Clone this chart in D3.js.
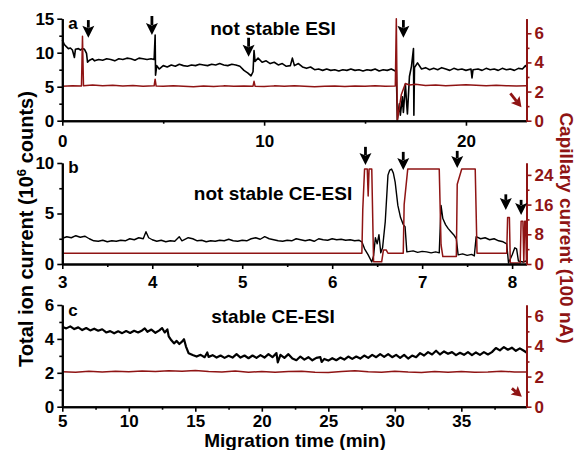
<!DOCTYPE html>
<html>
<head>
<meta charset="UTF-8">
<script src="https://d3js.org/d3.v7.min.js"></script>
<style>
  body { margin: 0; background: #fff; }
  svg text { font-family: "Liberation Sans", Arial, sans-serif; font-weight: bold; }
</style>
</head>
<body>
<div id="chart"></div>
<script>
const red = "#8f1414";

// ---- panel a: not stable ESI (time 0-23 min) ----
const ticA = [[0,11.9],[0.1,11.2],[0.2,10.9],[0.3,10.6],[0.4,10.7],[0.5,10.4],[0.6,9.3],[0.65,10.5],[0.8,10.6],[0.9,10.4],[1.0,10.6],[1.1,10.5],[1.2,9.9],[1.25,8.6],[1.35,8.9],[1.5,9.1],[1.6,8.8],[1.8,9.0],[2.0,8.9],[2.2,9.1],[2.4,9.0],[2.6,8.8],[2.8,9.1],[3.0,9.0],[3.2,9.2],[3.4,9.1],[3.6,8.9],[3.8,9.2],[4.0,9.1],[4.2,9.0],[4.4,9.1],[4.55,9.0],[4.6,12.6],[4.62,6.7],[4.68,8.1],[4.8,7.6],[5.0,8.1],[5.2,7.9],[5.4,8.2],[5.6,8.0],[5.8,8.3],[6.0,8.1],[6.2,8.0],[6.4,8.2],[6.6,8.1],[6.8,8.3],[7.0,8.2],[7.2,8.1],[7.4,8.3],[7.6,8.2],[7.8,8.4],[8.0,8.2],[8.2,8.1],[8.4,8.3],[8.6,8.2],[8.8,8.0],[9.0,7.4],[9.2,7.0],[9.35,6.6],[9.45,7.2],[9.5,10.3],[9.55,8.7],[9.7,9.2],[9.9,8.6],[10.1,8.8],[10.3,8.4],[10.5,8.6],[10.7,8.2],[10.9,8.4],[11.1,8.0],[11.3,8.1],[11.4,9.2],[11.5,8.1],[11.7,8.4],[11.9,7.9],[12.1,7.7],[12.3,7.9],[12.5,7.5],[12.7,7.6],[12.9,7.4],[13.1,7.6],[13.3,7.4],[13.5,7.5],[13.7,7.3],[13.9,7.5],[14.1,7.4],[14.3,7.6],[14.5,7.4],[14.7,7.5],[14.9,7.3],[15.1,7.5],[15.3,7.4],[15.5,7.6],[15.7,7.3],[15.9,7.5],[16.1,7.4],[16.3,7.6],[16.5,7.3],[16.55,7.4],[16.6,0.1],[16.7,2.5],[16.75,0.8],[16.85,3.5],[16.9,1.2],[17.0,5.4],[17.05,3.0],[17.1,1.0],[17.2,6.5],[17.3,8.0],[17.4,10.6],[17.42,0.8],[17.45,7.8],[17.6,8.5],[17.8,7.6],[18.0,7.8],[18.2,7.5],[18.4,7.7],[18.6,7.5],[18.8,7.8],[19.0,7.6],[19.2,7.4],[19.4,7.7],[19.6,7.5],[19.8,7.6],[20.0,7.4],[20.25,7.6],[20.3,6.3],[20.35,7.5],[20.6,7.6],[20.8,7.4],[21.0,7.7],[21.2,7.5],[21.4,7.6],[21.6,7.4],[21.8,7.7],[22.0,7.5],[22.2,7.6],[22.4,7.4],[22.6,7.7],[22.8,7.6],[22.95,8.1],[23.0,7.9]];
const capA = [[0,2.37],[0.5,2.4],[0.95,2.38],[1.0,5.8],[1.05,2.4],[1.5,2.45],[2,2.4],[2.5,2.43],[3,2.38],[3.5,2.41],[4,2.37],[4.55,2.39],[4.6,2.85],[4.65,2.38],[5,2.36],[5.5,2.4],[6,2.37],[6.5,2.33],[7,2.38],[7.5,2.35],[8,2.39],[8.5,2.36],[9,2.38],[9.45,2.37],[9.5,2.7],[9.55,2.37],[10,2.35],[10.5,2.39],[11,2.36],[11.5,2.4],[12,2.36],[12.5,2.33],[13,2.36],[13.5,2.38],[14,2.35],[14.5,2.38],[15,2.36],[15.5,2.4],[16,2.37],[16.5,2.38],[16.55,7],[16.6,0],[16.8,1.8],[17.0,2.55],[17.2,2.45],[17.5,2.5],[18,2.42],[18.5,2.45],[19,2.4],[19.5,2.43],[20,2.47],[20.5,2.43],[21,2.4],[21.5,2.43],[22,2.4],[22.5,2.38],[23,2.4]];
// arrows: [time, from, to] on the ion current axis
const arrowsA = [[1.29,14.8,12.2],[4.44,15.4,12.6],[9.23,12.2,9.4],[16.9,14.8,12.2]];

// ---- panel b: not stable CE-ESI (time 3-8.16 min) ----
const ticB = [[3.00,2.55],[3.05,2.7],[3.10,2.6],[3.15,2.8],[3.20,2.65],[3.25,2.75],[3.30,2.5],[3.35,2.3],[3.40,2.25],[3.45,2.35],[3.50,2.2],[3.55,2.3],[3.60,2.25],[3.65,2.35],[3.70,2.3],[3.75,2.5],[3.80,2.4],[3.85,2.6],[3.90,2.5],[3.93,3.2],[3.96,2.6],[4.00,2.4],[4.05,2.25],[4.10,2.35],[4.15,2.2],[4.20,2.3],[4.25,2.25],[4.30,2.7],[4.33,2.3],[4.40,2.6],[4.45,2.5],[4.50,2.3],[4.55,2.35],[4.60,2.2],[4.65,2.3],[4.70,2.25],[4.75,2.35],[4.80,2.3],[4.85,2.45],[4.90,2.3],[4.95,2.25],[5.00,2.35],[5.05,2.3],[5.10,2.5],[5.15,2.6],[5.20,2.45],[5.25,2.7],[5.30,2.5],[5.35,2.4],[5.40,2.3],[5.45,2.25],[5.50,2.35],[5.55,2.3],[5.60,2.5],[5.65,2.4],[5.70,2.3],[5.75,2.4],[5.80,2.25],[5.85,2.5],[5.90,2.4],[5.95,2.35],[6.00,2.5],[6.05,2.4],[6.10,2.45],[6.15,2.35],[6.20,2.4],[6.25,2.3],[6.30,2.35],[6.33,2.2],[6.36,1.5],[6.40,0.9],[6.44,0.2],[6.46,0.8],[6.48,2.6],[6.50,2.0],[6.52,2.9],[6.54,1.1],[6.56,1.6],[6.59,4.2],[6.62,8.8],[6.64,9.3],[6.66,9.4],[6.68,9.0],[6.70,8.1],[6.73,5.8],[6.76,4.6],[6.79,3.9],[6.81,3.7],[6.83,1.2],[6.90,1.3],[6.95,1.15],[7.00,1.25],[7.05,1.2],[7.10,1.1],[7.15,1.2],[7.19,1.1],[7.21,5.8],[7.23,4.5],[7.26,3.9],[7.29,3.5],[7.32,3.2],[7.35,2.9],[7.38,2.5],[7.40,0.9],[7.45,1.0],[7.50,0.85],[7.55,0.95],[7.58,0.8],[7.60,2.7],[7.65,2.5],[7.70,2.6],[7.75,2.4],[7.80,2.5],[7.85,2.3],[7.90,2.2],[7.94,2.0],[7.96,0.1],[8.00,0.9],[8.03,1.6],[8.05,1.5],[8.07,0.3],[8.12,0.2],[8.16,0.3]];
const capB = [[3,2.9],[6.33,2.9],[6.34,14.7],[6.36,25.6],[6.39,25.6],[6.40,18.3],[6.41,25.6],[6.44,25.6],[6.46,0.6],[6.55,0.6],[6.57,3.8],[6.60,3.8],[6.62,2.9],[6.79,2.9],[6.80,16],[6.84,25.6],[7.19,25.6],[7.21,5.2],[7.23,2.0],[7.38,2.0],[7.39,21.5],[7.44,25.6],[7.59,25.6],[7.61,2.9],[7.94,2.9],[7.95,12.5],[7.97,12.5],[7.98,0.3],[8.09,0.3],[8.10,11.5],[8.12,11.5],[8.13,0.5],[8.14,11.5],[8.15,11.5],[8.16,0]];
const arrowsB = [[6.37,11.6,9.8],[6.79,11.1,9.3],[7.39,11.2,9.5],[7.93,6.9,5.35],[8.10,6.35,4.85]];

// ---- panel c: stable CE-ESI (time 5-40 min) ----
const ticC = [[5.0,4.72],[5.3,4.62],[5.6,4.74],[5.9,4.58],[6.2,4.68],[6.5,4.52],[6.8,4.64],[7.1,4.5],[7.4,4.6],[7.7,4.48],[8.0,4.57],[8.3,4.38],[8.6,4.46],[8.9,4.33],[9.2,4.45],[9.5,4.34],[9.8,4.46],[10.1,4.35],[10.4,4.48],[10.7,4.38],[11.0,4.5],[11.2,4.62],[11.4,4.42],[11.7,4.55],[12.0,4.36],[12.3,4.5],[12.5,4.64],[12.7,4.38],[12.9,4.56],[13.0,4.15],[13.2,3.92],[13.4,3.74],[13.6,3.88],[13.8,3.7],[14.0,3.84],[14.15,3.98],[14.3,3.55],[14.5,3.15],[14.8,3.05],[15.1,2.96],[15.4,3.06],[15.7,2.92],[15.9,3.2],[16.0,2.94],[16.3,3.04],[16.6,2.9],[16.9,3.02],[17.2,2.88],[17.5,3.0],[17.8,2.9],[18.1,3.1],[18.4,2.9],[18.7,3.02],[19.0,2.86],[19.3,3.02],[19.6,2.88],[19.9,3.04],[20.2,2.9],[20.5,3.1],[20.8,2.92],[21.1,3.16],[21.2,2.62],[21.4,3.06],[21.7,2.88],[22.0,3.1],[22.3,2.84],[22.6,2.74],[22.9,2.96],[23.2,2.78],[23.5,2.92],[23.8,2.74],[24.1,2.88],[24.4,2.92],[24.5,2.64],[24.7,2.82],[25.0,2.72],[25.3,2.86],[25.6,2.74],[25.9,2.9],[26.2,2.78],[26.5,2.96],[26.8,2.82],[27.1,2.96],[27.4,2.84],[27.7,3.02],[28.0,2.88],[28.3,3.06],[28.6,2.92],[28.9,3.1],[29.2,2.94],[29.5,3.1],[29.8,2.92],[30.1,3.06],[30.4,2.88],[30.7,3.06],[31.0,2.84],[31.3,3.02],[31.6,2.92],[31.9,3.16],[32.2,3.02],[32.5,3.22],[32.8,3.08],[33.1,3.3],[33.4,3.08],[33.7,3.26],[34.0,3.12],[34.3,3.22],[34.6,3.04],[34.9,3.18],[35.2,3.06],[35.5,3.22],[35.8,3.04],[36.1,3.2],[36.4,3.06],[36.7,3.22],[37.0,3.08],[37.3,3.22],[37.6,3.46],[37.9,3.32],[38.2,3.52],[38.5,3.36],[38.8,3.48],[39.1,3.3],[39.4,3.44],[39.7,3.3],[39.9,3.2]];
const capC = [[5,2.32],[6,2.29],[7,2.35],[8,2.3],[9,2.36],[10,2.32],[11,2.37],[12,2.33],[13,2.39],[14,2.35],[15,2.41],[16,2.34],[17,2.31],[18,2.37],[19,2.29],[20,2.33],[21,2.28],[22,2.33],[23,2.36],[24,2.29],[25,2.27],[26,2.33],[27,2.39],[28,2.32],[29,2.29],[30,2.35],[31,2.3],[32,2.27],[33,2.33],[34,2.29],[35,2.33],[36,2.28],[37,2.31],[38,2.36],[39,2.31],[39.9,2.3]];

// red arrows: [time from, cap from, time to, cap to]
const redArrowA = [22.2, 1.88, 22.75, 0.92];
const redArrowC = [38.8, 1.22, 39.55, 0.66];

const panels = [
  { letter: "a", title: "not stable ESI", top: 18.7, bottom: 120.7,
    xDomain: [0, 23], xTicks: [0, 10, 20], xMinor: [5, 15],
    yDomain: [0, 15], yTicks: [0, 5, 10, 15], yMinor: [2.5, 7.5, 12.5],
    rDomain: [0, 7], rTicks: [0, 2, 4, 6], rMinor: [1, 3, 5],
    tic: ticA, cap: capA, arrows: arrowsA, redArrow: redArrowA, ticWidth: 1.6,
    letterY: 28.5, titleY: 35, labelDy: 26 },
  { letter: "b", title: "not stable CE-ESI", top: 163, bottom: 264,
    xDomain: [3, 8.16], xTicks: [3, 4, 5, 6, 7, 8], xMinor: [3.5, 4.5, 5.5, 6.5, 7.5],
    yDomain: [0, 10], yTicks: [0, 5, 10], yMinor: [2.5, 7.5],
    rDomain: [0, 27.2], rTicks: [0, 8, 16, 24], rMinor: [4, 12, 20],
    tic: ticB, cap: capB, arrows: arrowsB, redArrow: null, ticWidth: 1.4,
    letterY: 173, titleY: 200, labelDy: 24 },
  { letter: "c", title: "stable CE-ESI", top: 305, bottom: 406.7,
    xDomain: [5, 39.9], xTicks: [5, 10, 15, 20, 25, 30, 35], xMinor: [7.5, 12.5, 17.5, 22.5, 27.5, 32.5, 37.5],
    yDomain: [0, 6], yTicks: [0, 2, 4, 6], yMinor: [1, 3, 5],
    rDomain: [0, 6.75], rTicks: [0, 2, 4, 6], rMinor: [1, 3, 5],
    tic: ticC, cap: capC, arrows: [], redArrow: redArrowC, ticWidth: 2.2,
    letterY: 316, titleY: 323, labelDy: 20.5 }
];

const W = 579, H = 450;
const x0 = 62.3, x1 = 526.5;

const svg = d3.select("#chart").append("svg")
  .attr("width", W).attr("height", H);

function arrow(g, xa, ya, xb, yb, color, headLen, headW, sw) {
  const ang = Math.atan2(yb - ya, xb - xa);
  const bx = xb - headLen * Math.cos(ang), by = yb - headLen * Math.sin(ang);
  g.append("line").attr("x1", xa).attr("y1", ya).attr("x2", bx + 2 * Math.cos(ang)).attr("y2", by + 2 * Math.sin(ang))
    .attr("stroke", color).attr("stroke-width", sw);
  const px = -Math.sin(ang) * headW / 2, py = Math.cos(ang) * headW / 2;
  g.append("path")
    .attr("d", `M${xb},${yb}L${bx + px},${by + py}L${bx + headLen * 0.2 * Math.cos(ang)},${by + headLen * 0.2 * Math.sin(ang)}L${bx - px},${by - py}Z`)
    .attr("fill", color);
}

panels.forEach(p => {
  const g = svg.append("g");
  const x = d3.scaleLinear().domain(p.xDomain).range([x0, x1]);
  const y = d3.scaleLinear().domain(p.yDomain).range([p.bottom, p.top]);
  const yr = d3.scaleLinear().domain(p.rDomain).range([p.bottom, p.top]);

  // traces
  const lineL = d3.line().x(d => x(d[0])).y(d => y(d[1]));
  const lineR = d3.line().x(d => x(d[0])).y(d => yr(d[1]));
  g.append("path").datum(p.tic).attr("d", lineL)
    .attr("fill", "none").attr("stroke", "#000").attr("stroke-width", p.ticWidth).attr("stroke-linejoin", "round");
  g.append("path").datum(p.cap).attr("d", lineR)
    .attr("fill", "none").attr("stroke", red).attr("stroke-width", 1.5).attr("stroke-linejoin", "round");

  // axes
  const styleAxis = (sel, color) => {
    sel.select(".domain").attr("stroke", color).attr("stroke-width", 2);
    sel.selectAll(".tick line").attr("stroke", color).attr("stroke-width", 1.6);
    sel.selectAll(".tick text").attr("fill", color).style("font-size", "17px");
  };
  const fmt = d3.format("d");

  const gx = g.append("g").attr("transform", `translate(0,${p.bottom})`)
    .call(d3.axisBottom(x).tickValues(p.xTicks).tickFormat(fmt).tickSize(5).tickSizeOuter(0));
  gx.selectAll(".tick text").attr("dy", null).attr("y", p.labelDy);
  styleAxis(gx, "#000");
  const gxm = g.append("g").attr("transform", `translate(0,${p.bottom})`)
    .call(d3.axisBottom(x).tickValues(p.xMinor).tickSize(3).tickSizeOuter(0).tickFormat(""));
  styleAxis(gxm, "#000");

  const gy = g.append("g").attr("transform", `translate(${x0},0)`)
    .call(d3.axisLeft(y).tickValues(p.yTicks).tickFormat(fmt).tickSize(5).tickSizeOuter(0).tickPadding(3));
  styleAxis(gy, "#000");
  const gym = g.append("g").attr("transform", `translate(${x0},0)`)
    .call(d3.axisLeft(y).tickValues(p.yMinor).tickSize(3).tickSizeOuter(0).tickFormat(""));
  styleAxis(gym, "#000");

  const gr = g.append("g").attr("transform", `translate(${x1},0)`)
    .call(d3.axisRight(yr).tickValues(p.rTicks).tickFormat(fmt).tickSize(5).tickSizeOuter(0).tickPadding(3));
  styleAxis(gr, red);
  const grm = g.append("g").attr("transform", `translate(${x1},0)`)
    .call(d3.axisRight(yr).tickValues(p.rMinor).tickSize(3).tickSizeOuter(0).tickFormat(""));
  styleAxis(grm, red);

  // annotations
  p.arrows.forEach(a => arrow(g, x(a[0]), y(a[1]), x(a[0]), y(a[2]), "#000", 12, 12, 2.8));
  if (p.redArrow) {
    const r = p.redArrow;
    arrow(g, x(r[0]), yr(r[1]), x(r[2]), yr(r[3]), red, 10, 11, 2.8);
  }

  g.append("text").attr("x", x0 + 6).attr("y", p.letterY)
    .style("font-size", "17px").text(p.letter);
  g.append("text").attr("x", 273).attr("y", p.titleY).attr("text-anchor", "middle")
    .style("font-size", "19px").text(p.title);
});

// axis titles
const yt = svg.append("text").attr("transform", "translate(33,229) rotate(-90)")
  .attr("text-anchor", "middle").style("font-size", "20px");
yt.append("tspan").text("Total ion current (10");
yt.append("tspan").attr("baseline-shift", "super").style("font-size", "13px").text("6");
yt.append("tspan").text(" counts)");

svg.append("text").attr("transform", "translate(560,228) rotate(90)")
  .attr("text-anchor", "middle").attr("fill", red).style("font-size", "19px")
  .text("Capillary current (100 nA)");

svg.append("text").attr("x", 295).attr("y", 447).attr("text-anchor", "middle")
  .style("font-size", "19px").text("Migration time (min)");
</script>
</body>
</html>
